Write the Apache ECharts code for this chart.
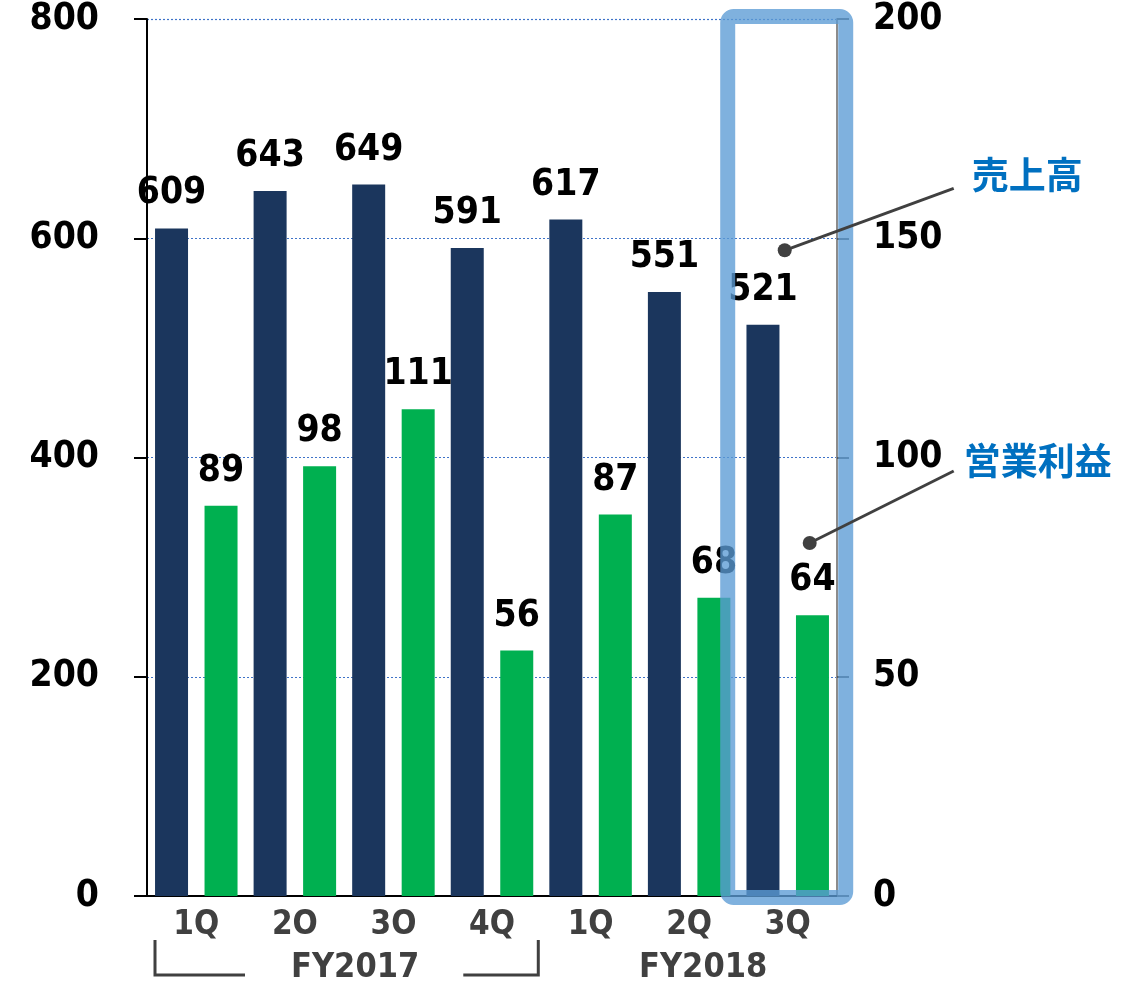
<!DOCTYPE html>
<html><head><meta charset="utf-8">
<script src="https://cdn.jsdelivr.net/npm/echarts@6/dist/echarts.min.js"></script>
<style>html,body{margin:0;padding:0;background:#fff}#c{width:1127px;height:983px}</style>
</head><body><div id="c"></div>
<script>
const categories = ['1Q','2O','3O','4Q','1Q','2Q','3Q'];
const fiscalYears = ['FY2017','FY2018'];
const sales = [609,643,649,591,617,551,521];
const operatingProfit = [89,98,111,56,87,68,64];
const seriesNames = ['売上高','営業利益'];
const leftAxisRange = {min:0, max:800, interval:200};
const rightAxisRange = {min:0, max:200, interval:50};

const FONT = '"DejaVu Sans Condensed", "DejaVu Sans", sans-serif';
const CJK = '"Noto Sans CJK JP", sans-serif';
const NAVY = '#1B365D', GREEN = '#00B050', BLUE = '#0070C0', DARK = '#404040';

const chart = echarts.init(document.getElementById('c'));
const labelStyle = {show:true, position:'top', distance:16, color:'#000', fontFamily:FONT, fontWeight:'bold', fontSize:37};

chart.setOption({
  animation:false,
  backgroundColor:'#fff',
  grid:{left:147, right:290, top:19, bottom:87, containLabel:false},
  xAxis:{
    type:'category', data:categories, boundaryGap:true,
    axisLine:{show:true, lineStyle:{color:'#000', width:2}},
    axisTick:{show:false},
    axisLabel:{color:DARK, fontFamily:FONT, fontWeight:'bold', fontSize:33, margin:13},
    splitLine:{show:true, interval:function(i){return i===4;}, lineStyle:{color:'#8c8c8c', width:2}}
  },
  yAxis:[
    {type:'value', position:'left', min:leftAxisRange.min, max:leftAxisRange.max, interval:leftAxisRange.interval,
     axisLine:{show:true, lineStyle:{color:'#000', width:2}},
     axisTick:{show:true, length:13, lineStyle:{color:'#000', width:2}},
     axisLabel:{color:'#000', fontFamily:FONT, fontWeight:'bold', fontSize:37, margin:48},
     splitLine:{show:true, lineStyle:{color:'#3F73C8', width:1.2, type:[2,2]}}},
    {type:'value', position:'right', min:rightAxisRange.min, max:rightAxisRange.max, interval:rightAxisRange.interval,
     axisLine:{show:true, lineStyle:{color:'#8c8c8c', width:2}},
     axisTick:{show:true, length:12, lineStyle:{color:'#595959', width:2}},
     axisLabel:{color:'#000', fontFamily:FONT, fontWeight:'bold', fontSize:37, margin:36},
     splitLine:{show:false}}
  ],
  series:[
    {name:seriesNames[0], type:'bar', yAxisIndex:0, data:sales, barWidth:33, barGap:'50%',
     itemStyle:{color:NAVY}, label:labelStyle},
    {name:seriesNames[1], type:'bar', yAxisIndex:1, data:operatingProfit, barWidth:33, barGap:'50%',
     itemStyle:{color:GREEN}, label:labelStyle}
  ]
});

// Annotations positioned from the chart's own scales
const px = (i) => chart.convertToPixel({xAxisIndex:0}, i);
const pyL = (v) => chart.convertToPixel({yAxisIndex:0}, v);
const pyR = (v) => chart.convertToPixel({yAxisIndex:1}, v);
const band = px(1) - px(0);
const yTop = pyL(leftAxisRange.max), yBot = pyL(0);
const hc = px(6);
const boxL = hc - 60, boxR = hc + 58;

const bracketY = yBot + 79, bracketTop = yBot + 44;
const bL = px(0) - band/2 + 8, bR = px(3) + band/2 - 3;
const fyY = yBot + 72;

const dot1 = [hc - 3, pyL(589)];
const dot2 = [hc + 22, pyR(80.5)];
const end1 = [boxR + 108, dot1[1] - 62];
const end2 = [boxR + 108, dot2[1] - 72];

chart.setOption({
  graphic:[
    {type:'rect', z:100, silent:true,
     shape:{x:boxL, y:yTop-2.5, width:boxR-boxL, height:yBot-yTop+4, r:6},
     style:{fill:'none', stroke:'rgba(91,155,213,0.78)', lineWidth:15}},
    {type:'polyline', z:100, shape:{points:[[bL,bracketTop],[bL,bracketY],[bL+90,bracketY]]},
     style:{stroke:DARK, lineWidth:3, fill:'none'}},
    {type:'polyline', z:100, shape:{points:[[bR-75,bracketY],[bR,bracketY],[bR,bracketTop]]},
     style:{stroke:DARK, lineWidth:3, fill:'none'}},
    {type:'text', z:100, x:(px(0)+px(3))/2 + 11, y:fyY,
     style:{text:fiscalYears[0], fill:DARK, font:'bold 34px '+FONT, textAlign:'center', textVerticalAlign:'middle'}},
    {type:'text', z:100, x:(px(4)+px(6))/2 + 14, y:fyY,
     style:{text:fiscalYears[1], fill:DARK, font:'bold 34px '+FONT, textAlign:'center', textVerticalAlign:'middle'}},
    {type:'line', z:101, shape:{x1:dot1[0], y1:dot1[1], x2:end1[0], y2:end1[1]}, style:{stroke:DARK, lineWidth:3}},
    {type:'circle', z:101, shape:{cx:dot1[0], cy:dot1[1], r:7}, style:{fill:DARK}},
    {type:'text', z:101, x:end1[0]+18, y:end1[1]-13,
     style:{text:seriesNames[0], fill:BLUE, font:'bold 37px '+CJK, textAlign:'left', textVerticalAlign:'middle'}},
    {type:'line', z:101, shape:{x1:dot2[0], y1:dot2[1], x2:end2[0], y2:end2[1]}, style:{stroke:DARK, lineWidth:3}},
    {type:'circle', z:101, shape:{cx:dot2[0], cy:dot2[1], r:7}, style:{fill:DARK}},
    {type:'text', z:101, x:end2[0]+10, y:end2[1]-10,
     style:{text:seriesNames[1], fill:BLUE, font:'bold 37px '+CJK, textAlign:'left', textVerticalAlign:'middle'}}
  ]
});
</script>
</body></html>
